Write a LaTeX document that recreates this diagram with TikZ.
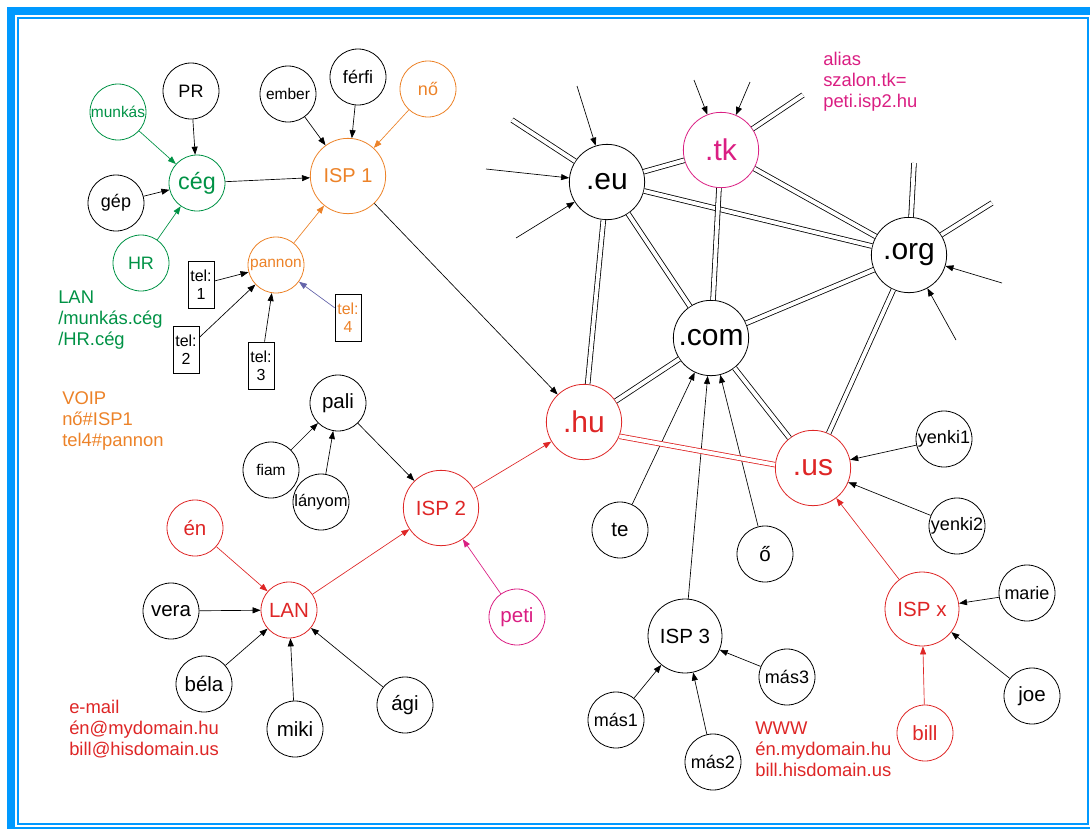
\documentclass[tikz,border=0pt]{standalone}
\usepackage{fontspec}
\setmainfont{Liberation Sans}
\usetikzlibrary{arrows.meta}
\definecolor{cgreen}{RGB}{0,146,69}
\definecolor{corange}{RGB}{236,130,40}
\definecolor{cred}{RGB}{222,38,38}
\definecolor{cmag}{RGB}{218,30,130}
\definecolor{cpurple}{RGB}{100,100,170}
\definecolor{cframe}{RGB}{0,153,255}
\begin{document}
\begin{tikzpicture}[x=0.75pt,y=-0.75pt,
  sn/.style={circle, draw, line width=0.6pt, minimum size=42pt, inner sep=0pt},
  bn/.style={circle, draw, line width=0.6pt, minimum size=56.5pt, inner sep=0pt},
  fa/.style={font=\fontsize{11.6}{13}\selectfont},
  fb/.style={font=\fontsize{13.5}{15}\selectfont},
  fc/.style={font=\fontsize{15.4}{17}\selectfont},
  fd/.style={font=\fontsize{17.5}{19}\selectfont},
  fe/.style={font=\fontsize{22.5}{24}\selectfont},
  telbox/.style={draw, line width=0.6pt, minimum width=19.5pt, minimum height=35.25pt, inner sep=0pt, align=center, font=\fontsize{12}{13.3}\selectfont},
  arr/.style={-{Triangle[length=6pt,width=4.5pt]}, line width=0.5pt},
  dbl/.style={double=white, double distance=2.9pt, line width=0.6pt},
  txt/.style={anchor=north west, inner sep=0pt, align=left, font=\fontsize{13.8}{15.75}\selectfont}
]
\useasboundingbox (0,0) rectangle (1090,829);
\clip (0,0) rectangle (1090,829);
\draw[cframe, line width=6pt] (11,10.5) rectangle (1100,831);
\draw[cframe, line width=1.5pt] (18,18) rectangle (1088,823.5);

% nodes top-left
\node[sn, cgreen, fa] (munkas) at (118,112) {munkás};
\node[sn, fb] (PR) at (191,91) {PR};
\node[sn, fa] (ember) at (288,94) {ember};
\node[sn, fb] (ferfi) at (358,77) {férfi};
\node[sn, corange, fb] (no) at (428,89) {nő};
\node[sn, cgreen, fd] (ceg) at (197,183) {cég};
\node[sn, fb] (gep) at (116,203) {gép};
\node[bn, corange, font=\fontsize{15}{17}\selectfont] (isp1) at (348,176) {ISP 1};
\node[sn, cgreen, fb] (HR) at (141,263) {HR};
\node[sn, corange, fa] (pannon) at (276,265) {pannon};
\node[telbox] (tel1) at (201,284.5) {tel:\\1};
\node[telbox] (tel2) at (186,350) {tel:\\2};
\node[telbox] (tel3) at (261,365.5) {tel:\\3};
\node[telbox, text=corange] (tel4) at (348,317.5) {tel:\\4};

% middle-left
\node[sn, fc] (pali) at (338,403) {pali};
\node[sn, fa] (fiam) at (271,470) {fiam};
\node[sn, font=\fontsize{12.4}{14}\selectfont] (lanyom) at (321,502) {lányom};
\node[bn, cred, fc] (isp2) at (441,508) {ISP 2};
\node[sn, cred, fc] (en) at (195,528) {én};
\node[sn, cred, fc] (lan) at (289,610) {LAN};
\node[sn, fc] (vera) at (171,611) {vera};
\node[sn, fc] (bela) at (204,684) {béla};
\node[sn, fc] (miki) at (295,729) {miki};
\node[sn, fc] (agi) at (405,705) {ági};
\node[sn, cmag, fc] (peti) at (517,617) {peti};

% TLDs
\node[bn, cmag, fe] (tk) at (721,150) {.tk};
\node[bn, fe] (eu) at (607,182) {.eu};
\node[bn, fe] (org) at (909,255) {.org};
\node[bn, fe] (com) at (711,338) {.com};
\node[bn, cred, fe] (hu) at (584,422) {.hu};
\node[bn, cred, fe] (us) at (813,468) {.us};

% bottom-right
\node[sn, fb] (yenki1) at (944,439) {yenki1};
\node[sn, fb] (yenki2) at (957,526) {yenki2};
\node[sn, fc] (te) at (620,530) {te};
\node[sn, fc] (o) at (765,554) {ő};
\node[bn, fc, minimum size=55.5pt] (isp3) at (685,636) {ISP 3};
\node[bn, cred, fc, minimum size=55.5pt] (ispx) at (922,609) {ISP x};
\node[sn, fb] (marie) at (1027,593) {marie};
\node[sn, fc] (joe) at (1032,696) {joe};
\node[sn, cred, fc] (bill) at (925,733) {bill};
\node[sn, fb] (mas1) at (616,720) {más1};
\node[sn, fb] (mas2) at (713,762) {más2};
\node[sn, fb] (mas3) at (787,677) {más3};

% texts
\node[txt, text=cgreen] (lantxt) at (58,291) {LAN\\/munkás.cég\\/HR.cég};
\node[txt, text=corange] (voiptxt) at (62,391) {VOIP\\nő\#ISP1\\tel4\#pannon};
\node[txt, text=cred] (mailtxt) at (69,700) {e-mail\\én@mydomain.hu\\bill@hisdomain.us};
\node[txt, text=cmag] (aliastxt) at (823,52) {alias\\szalon.tk=\\peti.isp2.hu};
\node[txt, text=cred] (wwwtxt) at (755,722) {WWW\\én.mydomain.hu\\bill.hisdomain.us};

% free ends
\coordinate (sEu) at (512,120);
\coordinate (sTk) at (803,95);
\coordinate (sOrg1) at (914,163);
\coordinate (sOrg2) at (992,203);
\coordinate (aEu1) at (577,86);
\coordinate (aEu2) at (486,169);
\coordinate (aEu3) at (516,238);
\coordinate (aTk1) at (694,80);
\coordinate (aTk2) at (750,82);
\coordinate (aOrg1) at (1002,283);
\coordinate (aOrg2) at (956,340);

% arrows top-left
\draw[arr, cgreen] (munkas) -- (ceg);
\draw[arr] (PR) -- (ceg);
\draw[arr] (gep) -- (ceg);
\draw[arr, cgreen] (HR) -- (ceg);
\draw[arr] (ceg) -- (isp1);
\draw[arr] (ember) -- (isp1);
\draw[arr] (ferfi) -- (isp1);
\draw[arr, corange] (no) -- (isp1);
\draw[arr, corange] (pannon) -- (isp1);
\draw[arr] (tel1) -- (pannon);
\draw[arr] (tel2) -- (pannon);
\draw[arr] (tel3) -- (pannon);
\draw[arr, cpurple] (tel4) -- (pannon);
\draw[arr] (isp1) -- (hu);

% middle-left arrows
\draw[arr] (fiam) -- (pali);
\draw[arr] (lanyom) -- (pali);
\draw[arr] (pali) -- (isp2);
\draw[arr, cred] (isp2) -- (hu);
\draw[arr, cmag] (peti) -- (isp2);
\draw[arr, cred] (en) -- (lan);
\draw[arr, cred] (lan) -- (isp2);
\draw[arr] (vera) -- (lan);
\draw[arr] (bela) -- (lan);
\draw[arr] (miki) -- (lan);
\draw[arr] (agi) -- (lan);

% right arrows
\draw[arr] (te) -- (com);
\draw[arr] (isp3) -- (com);
\draw[arr] (o) -- (com);
\draw[arr] (mas1) -- (isp3);
\draw[arr] (mas2) -- (isp3);
\draw[arr] (mas3) -- (isp3);
\draw[arr] (yenki1) -- (us);
\draw[arr] (yenki2) -- (us);
\draw[arr, cred] (ispx) -- (us);
\draw[arr] (marie) -- (ispx);
\draw[arr] (joe) -- (ispx);
\draw[arr, cred] (bill) -- (ispx);

% free arrows
\draw[arr] (aEu1) -- (eu);
\draw[arr] (aEu2) -- (eu);
\draw[arr] (aEu3) -- (eu);
\draw[arr] (aTk1) -- (tk);
\draw[arr] (aTk2) -- (tk);
\draw[arr] (aOrg1) -- (org);
\draw[arr] (aOrg2) -- (org);

% double links
\draw[dbl] (eu) -- (tk);
\draw[dbl] (eu) -- (org);
\draw[dbl] (eu) -- (com);
\draw[dbl] (eu) -- (hu);
\draw[dbl] (tk) -- (com);
\draw[dbl] (tk) -- (org);
\draw[dbl] (com) -- (org);
\draw[dbl] (com) -- (hu);
\draw[dbl] (com) -- (us);
\draw[dbl] (org) -- (us);
\draw[dbl, cred] (hu.-22) -- (us.175);
\draw[dbl] (sEu) -- (eu);
\draw[dbl] (sTk) -- (tk);
\draw[dbl] (sOrg1) -- (org);
\draw[dbl] (sOrg2) -- (org);
\end{tikzpicture}
\end{document}
